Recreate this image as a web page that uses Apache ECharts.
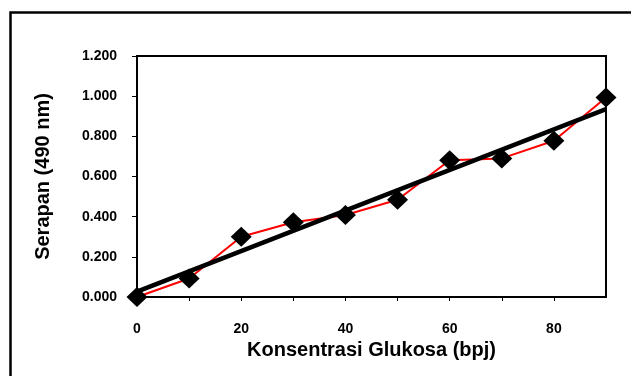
<!DOCTYPE html>
<html>
<head>
<meta charset="utf-8">
<script src="https://cdn.jsdelivr.net/npm/echarts@6/dist/echarts.min.js"></script>
<style>
    html, body { margin: 0; padding: 0; background: #fff; }
    #chart { width: 631px; height: 376px; }
</style>
</head>
<body>
<div id="chart"></div>
<script>
// konsentrasi glukosa (bpj) dan serapan (490 nm)
var konsentrasi = [0, 10, 20, 30, 40, 50, 60, 70, 80, 90];
var serapan = [0.000, 0.092, 0.300, 0.372, 0.408, 0.484, 0.681, 0.690, 0.778, 0.993];
// garis tren
var trendX = [0, 90];
var trendY = [0.027, 0.935];
var xTickLabels = [0, 20, 40, 60, 80];

(function () {
    var fontFamily = "'Liberation Sans', Arial, sans-serif";
    var chart = echarts.init(document.getElementById('chart'));

    function pairs(xs, ys) {
        var out = [];
        for (var i = 0; i < xs.length; i++) {
            out.push([xs[i], ys[i]]);
        }
        return out;
    }

    var option = {
        animation: false,
        backgroundColor: '#fff',
        graphic: [{
            type: 'rect',
            left: 8,
            top: 10,
            shape: { width: 700, height: 420 },
            style: { fill: 'none', stroke: '#000', lineWidth: 2.5 },
            silent: true
        }],
        grid: {
            left: 137,
            right: 25,
            top: 56,
            bottom: 79,
            show: true,
            borderColor: '#000',
            borderWidth: 2,
            backgroundColor: '#fff'
        },
        xAxis: {
            type: 'value',
            min: 0,
            max: 90,
            interval: 10,
            name: 'Konsentrasi Glukosa (bpj)',
            nameLocation: 'middle',
            nameGap: 40,
            nameTextStyle: { fontFamily: fontFamily, fontWeight: 'bold', fontSize: 20, color: '#000' },
            axisLine: { lineStyle: { color: '#000', width: 2 } },
            axisTick: { show: true, length: 4, lineStyle: { color: '#000', width: 1 } },
            axisLabel: {
                margin: 25,
                fontFamily: fontFamily,
                fontWeight: 'bold',
                fontSize: 14,
                color: '#000',
                showMaxLabel: false,
                formatter: function (v) {
                    return xTickLabels.indexOf(v) >= 0 ? String(v) : '';
                }
            },
            splitLine: { show: false }
        },
        yAxis: {
            type: 'value',
            min: 0,
            max: 1.2,
            interval: 0.2,
            name: 'Serapan (490 nm)',
            nameLocation: 'middle',
            nameGap: 84,
            nameTextStyle: { fontFamily: fontFamily, fontWeight: 'bold', fontSize: 20, color: '#000' },
            axisLine: { show: true, lineStyle: { color: '#000', width: 2 } },
            axisTick: { show: true, length: 5, lineStyle: { color: '#000', width: 1 } },
            axisLabel: {
                margin: 20,
                fontFamily: fontFamily,
                fontWeight: 'bold',
                fontSize: 14,
                color: '#000',
                formatter: function (v) { return v.toFixed(3); }
            },
            splitLine: { show: false }
        },
        series: [{
            name: 'Serapan',
            type: 'line',
            data: pairs(konsentrasi, serapan),
            lineStyle: { color: '#ff0000', width: 2 },
            symbol: 'diamond',
            symbolSize: [21, 20],
            itemStyle: { color: '#000', borderWidth: 0 },
            z: 2
        }, {
            name: 'Tren',
            type: 'line',
            data: pairs(trendX, trendY),
            lineStyle: { color: '#000', width: 4.5 },
            symbol: 'none',
            z: 3
        }]
    };

    chart.setOption(option);
})();
</script>
</body>
</html>
